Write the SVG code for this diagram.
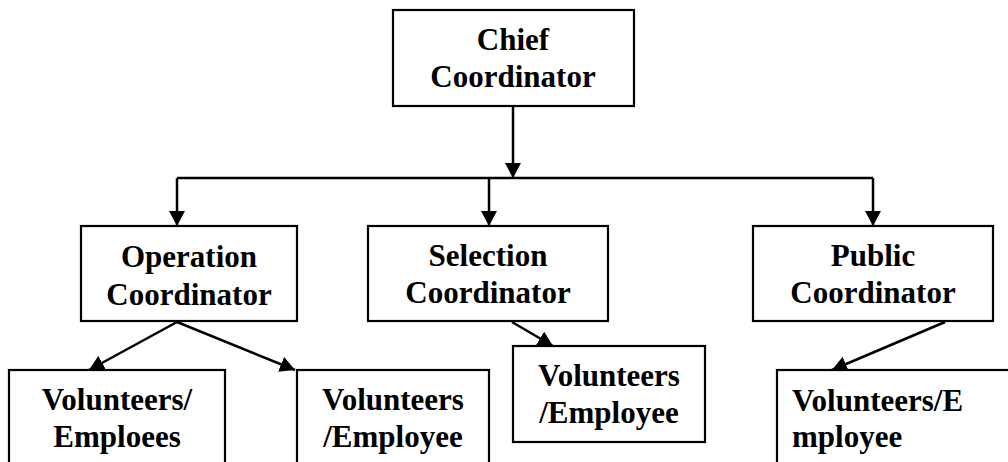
<svg xmlns="http://www.w3.org/2000/svg" width="1008" height="462" viewBox="0 0 1008 462">
<style>
.box{fill:#fff;stroke:#000;stroke-width:2.2}
text{font-family:'Liberation Serif','Times New Roman',Times,'DejaVu Serif',serif;font-weight:700;font-size:31px;fill:#000;text-anchor:middle}
text.tl{text-anchor:start}
.c{fill:none;stroke:#000;stroke-width:2.5}
</style>
<defs>
<marker id="ah" markerUnits="userSpaceOnUse" markerWidth="16" markerHeight="16" refX="15" refY="8" orient="auto">
<path d="M0,0 L15,8 L0,16 Z" fill="#000"/>
</marker>
</defs>
<rect width="1008" height="462" fill="#fff"/>
<g id="connectors">
<line class="c" x1="513" y1="106" x2="513" y2="178" marker-end="url(#ah)"/>
<line class="c" x1="177" y1="178" x2="873" y2="178"/>
<line class="c" x1="177" y1="178" x2="177" y2="226" marker-end="url(#ah)"/>
<line class="c" x1="489" y1="178" x2="489" y2="226" marker-end="url(#ah)"/>
<line class="c" x1="873" y1="178" x2="873" y2="226" marker-end="url(#ah)"/>
<line class="c" x1="177" y1="322" x2="89" y2="370" marker-end="url(#ah)"/>
<line class="c" x1="177" y1="322" x2="295" y2="370" marker-end="url(#ah)"/>
<line class="c" x1="512" y1="322" x2="553" y2="346" marker-end="url(#ah)"/>
<line class="c" x1="945" y1="322" x2="832" y2="370" marker-end="url(#ah)"/>
</g>
<g id="chief">
<rect class="box" x="393" y="10" width="241" height="96"/>
<text x="513" y="50">Chief</text>
<text x="513" y="87">Coordinator</text>
</g>
<g id="operation">
<rect class="box" x="81" y="226" width="216" height="95"/>
<text x="189" y="267">Operation</text>
<text x="189" y="305">Coordinator</text>
</g>
<g id="selection">
<rect class="box" x="368" y="226" width="240" height="95"/>
<text x="488" y="266">Selection</text>
<text x="488" y="303">Coordinator</text>
</g>
<g id="public">
<rect class="box" x="753" y="226" width="240" height="95"/>
<text x="873" y="266">Public</text>
<text x="873" y="303">Coordinator</text>
</g>
<g id="vol1">
<rect class="box" x="9" y="370" width="216" height="110"/>
<text x="117" y="410">Volunteers/</text>
<text x="117" y="447">Emploees</text>
</g>
<g id="vol2">
<rect class="box" x="297" y="370" width="192" height="110"/>
<text x="393" y="410">Volunteers</text>
<text x="393" y="447">/Employee</text>
</g>
<g id="vol3">
<rect class="box" x="513" y="346" width="192" height="96"/>
<text x="609" y="386">Volunteers</text>
<text x="609" y="423">/Employee</text>
</g>
<g id="vol4">
<rect class="box" x="777" y="370" width="250" height="110"/>
<text class="tl" x="792" y="411">Volunteers/E</text>
<text class="tl" x="792" y="447">mployee</text>
</g>
</svg>
